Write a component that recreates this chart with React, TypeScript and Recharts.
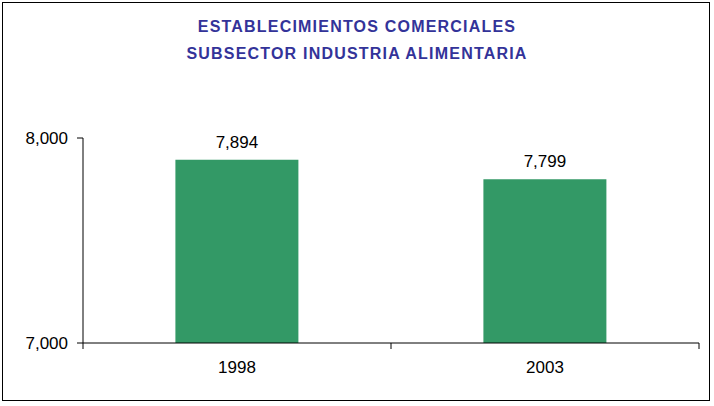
import { BarChart, Bar, XAxis, YAxis, LabelList } from "recharts";

const years = ["1998", "2003"];
const establecimientos = [7894, 7799];
const yTicks = [7000, 8000];

const data = years.map((year, i) => ({ year, value: establecimientos[i] }));

const FONT = "Arial, 'Liberation Sans', sans-serif";
const fmt = (v: number) => v.toLocaleString("en-US");

// category ticks sit on band edges, not band centres
const HALF_BAND = 154;

// eslint-disable-next-line @typescript-eslint/no-explicit-any
function YearTick({ x, y, payload, index }: any) {
  const axisY = y - 18;
  return (
    <g>
      <line x1={x - HALF_BAND} y1={axisY} x2={x - HALF_BAND} y2={axisY + 6} stroke="#000" />
      {index === years.length - 1 && (
        <line x1={x + HALF_BAND} y1={axisY} x2={x + HALF_BAND} y2={axisY + 6} stroke="#000" />
      )}
      <text x={x} y={y} dy="0.71em" textAnchor="middle" fontSize={17} fill="#000" fontFamily={FONT}>
        {payload.value}
      </text>
    </g>
  );
}

export default function App() {
  return (
    <div style={{ position: "relative", width: 714, height: 406, background: "#fff" }}>
      <style>{`body{margin:0}`}</style>
      <div
        style={{
          position: "absolute", left: 2, top: 2, width: 708, height: 399,
          border: "1px solid #000", boxSizing: "border-box",
        }}
      />
      <div
        style={{
          position: "absolute", left: 0, right: 0, top: 14, textAlign: "center",
          fontFamily: FONT, fontWeight: "bold", fontSize: 16, color: "#333399",
          lineHeight: "26.5px", letterSpacing: 1.2,
        }}
      >
        <div>ESTABLECIMIENTOS COMERCIALES</div>
        <div>SUBSECTOR INDUSTRIA ALIMENTARIA</div>
      </div>
      <BarChart
        width={714}
        height={406}
        data={data}
        margin={{ top: 138, right: 15, bottom: 33, left: 23 }}
        barCategoryGap="30%"
        style={{ position: "absolute", left: 0, top: 0 }}
      >
        <YAxis
          width={60}
          domain={[7000, 8000]}
          ticks={yTicks}
          tickFormatter={fmt}
          stroke="#000"
          tickSize={6}
          tickMargin={9}
          tick={{ fill: "#000", fontSize: 17, fontFamily: FONT }}
          allowDataOverflow
        />
        <XAxis
          dataKey="year"
          height={30}
          stroke="#000"
          tickLine={false}
          tickSize={6}
          tickMargin={12}
          tick={<YearTick />}
        />
        <Bar dataKey="value" fill="#339966" isAnimationActive={false}>
          <LabelList
            dataKey="value"
            position="top"
            offset={12}
            formatter={(v: number) => fmt(v)}
            style={{ fill: "#000", fontSize: 17, fontFamily: FONT }}
          />
        </Bar>
      </BarChart>
    </div>
  );
}
